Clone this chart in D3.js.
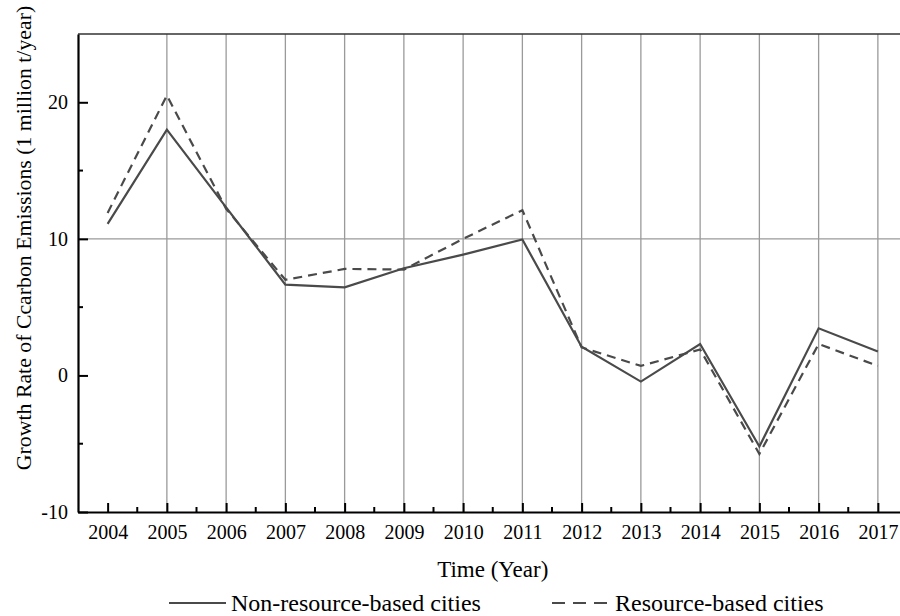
<!DOCTYPE html>
<html>
<head>
<meta charset="utf-8">
<script src="https://cdn.jsdelivr.net/npm/d3@7"></script>
<style>
  body { margin: 0; background: #fff; }
  text { font-family: "Liberation Serif", "Times New Roman", serif; fill: #000; }
</style>
</head>
<body>
<div id="chart"></div>
<script>
// data
var years = [2004, 2005, 2006, 2007, 2008, 2009, 2010, 2011, 2012, 2013, 2014, 2015, 2016, 2017];
var nonResource = [11.1, 18.0, 12.3, 6.65, 6.45, 7.85, 8.85, 9.95, 2.1, -0.45, 2.3, -5.2, 3.45, 1.75];
var resource = [11.9, 20.5, 12.2, 7.0, 7.8, 7.75, 10.0, 12.1, 2.05, 0.7, 1.9, -5.75, 2.3, 0.7];
var yTicks = [-10, 0, 10, 20];
var yMinor = [-5, 5, 15];
var seriesNames = ["Non-resource-based cities", "Resource-based cities"];

var W = 900, H = 616;
var mLeft = 78, mTop = 34, mBottom = 512;
var mRight = mLeft + 14 * 59.25;

var svg = d3.select("#chart").append("svg")
    .attr("width", W).attr("height", H);

var x = d3.scaleLinear().domain([2003.5, 2017.5]).range([mLeft, mRight]);
var y = d3.scaleLinear().domain([-10, 25]).range([mBottom, mTop]);

// grid: vertical lines on years (none at 2004), one horizontal at 10
svg.selectAll(".vgrid")
    .data(years.slice(1))
    .enter()
    .append("line")
    .attr("x1", function (d) { return x(d); })
    .attr("x2", function (d) { return x(d); })
    .attr("y1", mTop).attr("y2", mBottom)
    .attr("stroke", "#9a9a9a").attr("stroke-width", 1.3);
svg.append("line")
    .attr("x1", mLeft).attr("x2", mRight)
    .attr("y1", y(10)).attr("y2", y(10))
    .attr("stroke", "#9a9a9a").attr("stroke-width", 1.3);

// top border
svg.append("line")
    .attr("x1", mLeft).attr("x2", mRight)
    .attr("y1", mTop).attr("y2", mTop)
    .attr("stroke", "#333").attr("stroke-width", 1.6);

// series lines
var line = d3.line()
    .x(function (d, i) { return x(years[i]); })
    .y(function (d) { return y(d); });

svg.append("path")
    .datum(nonResource)
    .attr("d", line)
    .attr("fill", "none")
    .attr("stroke", "#4a4a4a")
    .attr("stroke-width", 2.2);

svg.append("path")
    .datum(resource)
    .attr("d", line)
    .attr("fill", "none")
    .attr("stroke", "#4a4a4a")
    .attr("stroke-width", 2.2)
    .attr("stroke-dasharray", "9,6");

// axes, ticks pointing inward
var xAxis = d3.axisBottom(x).tickValues(years).tickFormat(function (d) { return String(d); })
    .tickSizeInner(-9).tickSizeOuter(0).tickPadding(13);
var gx = svg.append("g").attr("transform", "translate(0," + mBottom + ")").call(xAxis);
gx.selectAll(".tick text").attr("font-size", 20).attr("font-family", "Liberation Serif");

var yAxis = d3.axisLeft(y).tickValues(yTicks).tickFormat(function (d) { return String(d); })
    .tickSizeInner(-10).tickSizeOuter(0).tickPadding(10);
var gy = svg.append("g").attr("transform", "translate(" + mLeft + ",0)").call(yAxis);
gy.selectAll(".tick text").attr("font-size", 20).attr("font-family", "Liberation Serif");

[gx, gy].forEach(function (g) {
    g.select(".domain").attr("stroke", "#000").attr("stroke-width", 2.2);
    g.selectAll(".tick line").attr("stroke", "#000").attr("stroke-width", 2);
});

// minor ticks
svg.selectAll(".xminor")
    .data(years.map(function (d) { return d + 0.5; }))
    .enter()
    .append("line")
    .attr("x1", function (d) { return x(d); })
    .attr("x2", function (d) { return x(d); })
    .attr("y1", mBottom).attr("y2", mBottom - 5)
    .attr("stroke", "#000").attr("stroke-width", 2);
svg.selectAll(".yminor")
    .data(yMinor)
    .enter()
    .append("line")
    .attr("x1", mLeft).attr("x2", mLeft + 5)
    .attr("y1", function (d) { return y(d); })
    .attr("y2", function (d) { return y(d); })
    .attr("stroke", "#000").attr("stroke-width", 2);

// axis titles
svg.append("text")
    .attr("x", (mLeft + mRight) / 2).attr("y", 577)
    .attr("text-anchor", "middle")
    .attr("font-size", 23)
    .text("Time (Year)");

svg.append("text")
    .attr("transform", "translate(31,238) rotate(-90)")
    .attr("text-anchor", "middle")
    .attr("font-size", 21.8)
    .text("Growth Rate of Ccarbon Emissions (1 million t/year)");

// legend
var legend = [
    { name: seriesNames[0], x1: 169, x2: 226, tx: 231, dash: null },
    { name: seriesNames[1], x1: 552, x2: 607, tx: 615, dash: "13,8" }
];
legend.forEach(function (d) {
    svg.append("line")
        .attr("x1", d.x1).attr("x2", d.x2)
        .attr("y1", 603).attr("y2", 603)
        .attr("stroke", "#4a4a4a").attr("stroke-width", 2.2)
        .attr("stroke-dasharray", d.dash);
    svg.append("text")
        .attr("x", d.tx).attr("y", 611)
        .attr("font-size", 24)
        .text(d.name);
});
</script>
</body>
</html>
